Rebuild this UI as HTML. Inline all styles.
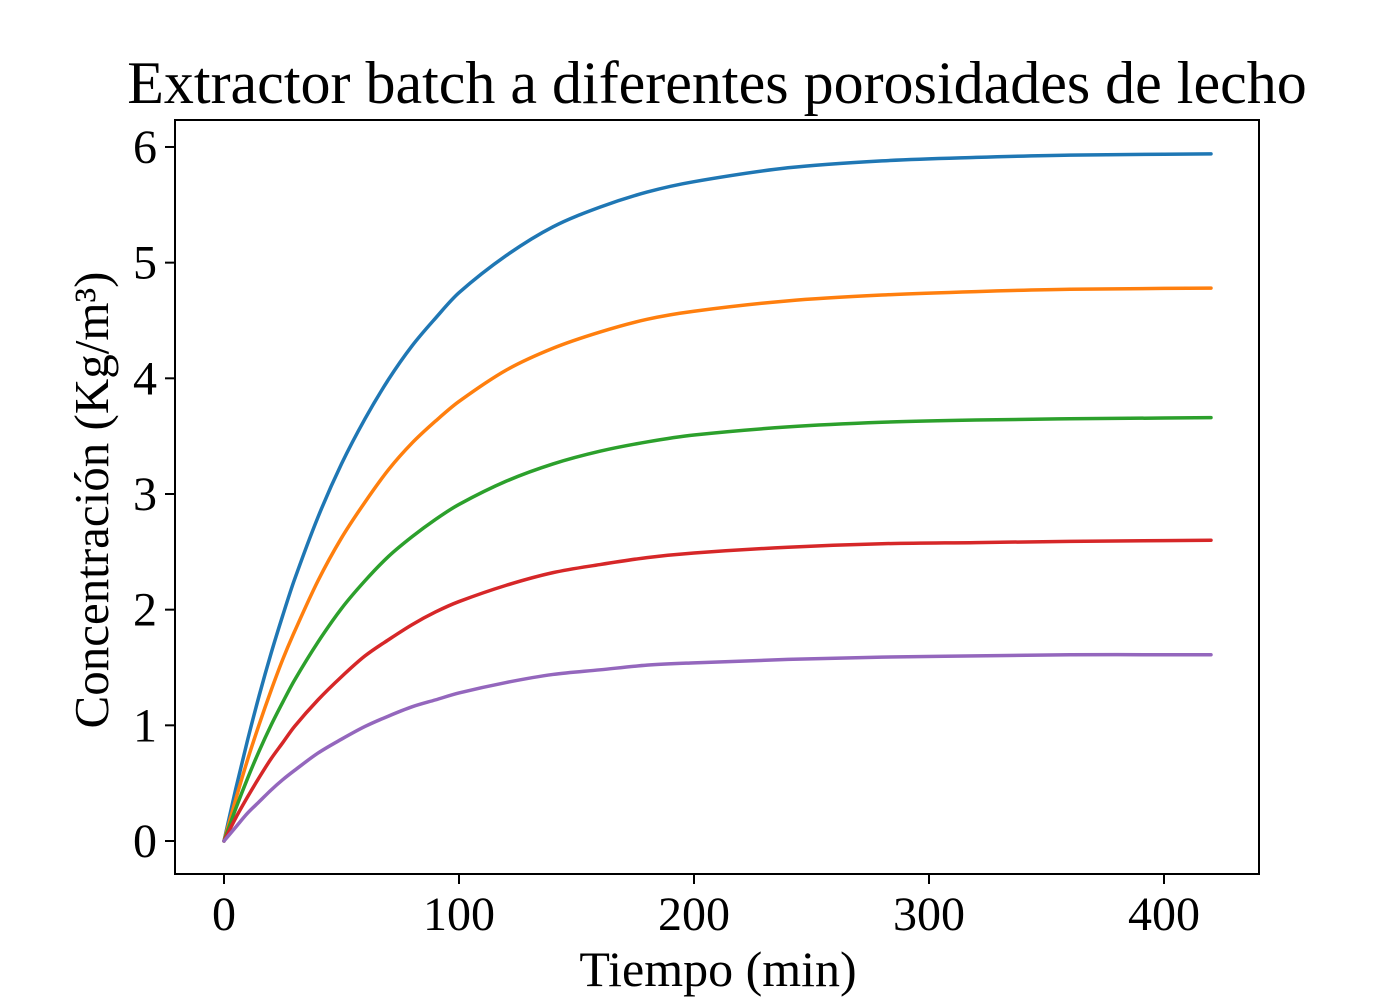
<!DOCTYPE html>
<html><head><meta charset="utf-8"><style>
html,body{margin:0;padding:0;background:#fff;}
svg text{font-family:"Liberation Serif",serif;fill:#000;}
</style></head><body>
<svg id="chart" width="1400" height="1000" viewBox="0 0 1400 1000">
<rect x="0" y="0" width="1400" height="1000" fill="#fff"/>
<text x="717" y="103" font-size="60" text-anchor="middle">Extractor batch a diferentes porosidades de lecho</text>
<g id="series"></g>
<rect x="175" y="120" width="1084" height="754" fill="none" stroke="#000" stroke-width="2"/>
<g id="xticks"></g>
<g id="yticks"></g>
<text x="718" y="986" font-size="50" text-anchor="middle">Tiempo (min)</text>
<text transform="translate(108,500) rotate(-90)" font-size="49" text-anchor="middle">Concentración (Kg/m³)</text>
</svg>
<script>
const times = [0,5,10,15,20,25,30,40,50,60,70,80,90,100,120,140,160,180,200,240,280,320,360,420];
const seriesBlue = [0,0.45,0.87,1.26,1.62,1.95,2.26,2.80,3.26,3.65,3.99,4.28,4.52,4.74,5.06,5.31,5.48,5.61,5.70,5.82,5.88,5.91,5.93,5.94];
const seriesOrange = [0,0.36,0.70,1.01,1.30,1.57,1.81,2.25,2.62,2.93,3.21,3.44,3.63,3.80,4.07,4.26,4.40,4.51,4.58,4.67,4.72,4.75,4.77,4.78];
const seriesGreen = [0,0.28,0.54,0.78,1.00,1.20,1.39,1.72,2.01,2.25,2.46,2.63,2.78,2.91,3.11,3.26,3.37,3.45,3.51,3.58,3.62,3.64,3.65,3.66];
const seriesRed = [0,0.20,0.38,0.55,0.71,0.85,0.99,1.22,1.42,1.60,1.74,1.87,1.98,2.07,2.21,2.32,2.39,2.45,2.49,2.54,2.57,2.58,2.59,2.60];
const seriesPurple = [0,0.12,0.24,0.34,0.44,0.53,0.61,0.76,0.88,0.99,1.08,1.16,1.22,1.28,1.37,1.44,1.48,1.52,1.54,1.57,1.59,1.60,1.61,1.61];
const xTicks = [0,100,200,300,400];
const yTicks = [0,1,2,3,4,5,6];

const NS = "http://www.w3.org/2000/svg";
function xScale(t){ return 224 + t*2.35; }
function yScale(v){ return 841 - v*115.67; }

const sg = document.getElementById('series');
const list = [
  {name:'line-blue', color:'#1f77b4', data:seriesBlue},
  {name:'line-orange', color:'#ff7f0e', data:seriesOrange},
  {name:'line-green', color:'#2ca02c', data:seriesGreen},
  {name:'line-red', color:'#d62728', data:seriesRed},
  {name:'line-purple', color:'#9467bd', data:seriesPurple}
];
function pathFor(data){
  const p = times.map((t,i)=>[xScale(t), yScale(data[i])]);
  const n = p.length;
  const m = p.map((pt,i)=>{
    if(i===0) return (p[1][1]-p[0][1])/(p[1][0]-p[0][0]);
    if(i===n-1) return (p[n-1][1]-p[n-2][1])/(p[n-1][0]-p[n-2][0]);
    return (p[i+1][1]-p[i-1][1])/(p[i+1][0]-p[i-1][0]);
  });
  let d = 'M'+p[0][0]+','+p[0][1];
  for(let i=0;i<n-1;i++){
    const h = p[i+1][0]-p[i][0];
    d += ' C'+(p[i][0]+h/3)+','+(p[i][1]+m[i]*h/3)+' '+(p[i+1][0]-h/3)+','+(p[i+1][1]-m[i+1]*h/3)+' '+p[i+1][0]+','+p[i+1][1];
  }
  return d;
}
list.forEach(s=>{
  const el = document.createElementNS(NS,'path');
  el.setAttribute('d', pathFor(s.data));
  el.setAttribute('fill','none');
  el.setAttribute('stroke', s.color);
  el.setAttribute('stroke-width','3.5');
  el.setAttribute('stroke-linecap','round');
  
  
  sg.appendChild(el);
});

const xg = document.getElementById('xticks');
xTicks.forEach(t=>{
  const x = xScale(t);
  const l = document.createElementNS(NS,'line');
  l.setAttribute('x1',x); l.setAttribute('x2',x); l.setAttribute('y1',874); l.setAttribute('y2',884);
  l.setAttribute('stroke','#000'); l.setAttribute('stroke-width','2');
  
  
  xg.appendChild(l);
  const tx = document.createElementNS(NS,'text');
  tx.setAttribute('x',x); tx.setAttribute('y',930);
  tx.setAttribute('font-size','48'); tx.setAttribute('text-anchor','middle');
  tx.textContent = t;
  
  
  xg.appendChild(tx);
});
const yg = document.getElementById('yticks');
yTicks.forEach(v=>{
  const y = yScale(v);
  const l = document.createElementNS(NS,'line');
  l.setAttribute('x1',165); l.setAttribute('x2',175); l.setAttribute('y1',y); l.setAttribute('y2',y);
  l.setAttribute('stroke','#000'); l.setAttribute('stroke-width','2');
  
  
  yg.appendChild(l);
  const tx = document.createElementNS(NS,'text');
  tx.setAttribute('x',157); tx.setAttribute('y',y+16);
  tx.setAttribute('font-size','48'); tx.setAttribute('text-anchor','end');
  tx.textContent = v;
  
  
  yg.appendChild(tx);
});
</script>
</body></html>
